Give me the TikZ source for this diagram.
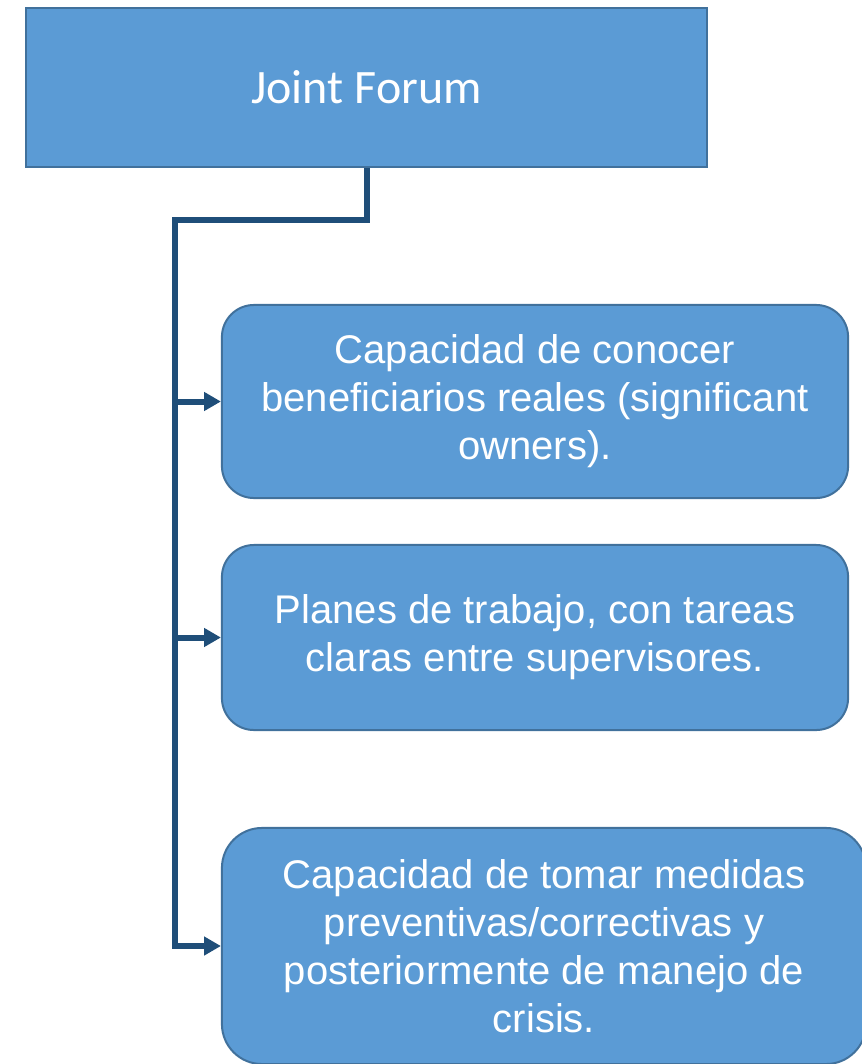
\documentclass[tikz,border=0pt]{standalone}
\usepackage{fontspec}
\setmainfont{Liberation Sans}
\newfontfamily\forumfont{Carlito}
\usetikzlibrary{arrows.meta}
\definecolor{boxblue}{HTML}{5B9BD5}
\definecolor{boxedge}{HTML}{41719C}
\definecolor{linkblue}{HTML}{1F4E79}

\begin{document}
\begin{tikzpicture}[x=0.025cm,y=-0.025cm,
		box/.style={draw=boxedge, line width=0.05cm, fill=boxblue, text=white, align=center, inner sep=0pt,
			font=\fontsize{28.45}{34.14}\selectfont},
		link/.style={draw=linkblue, line width=0.15cm, -{Triangle[length=0.42cm,width=0.45cm]}}]
	\useasboundingbox (0,0) rectangle (861,1064);

	\node[box, minimum width=17.025cm, minimum height=3.975cm, font=\forumfont\fontsize{34.14}{40}\selectfont] (jf) at (366.5,87.5) {Joint Forum};

	\node[box, rounded corners=0.8cm, minimum width=15.65cm, minimum height=4.825cm] (cap) at (535,401.5) {Capacidad de conocer\\beneficiarios reales (significant\\owners).};
	\node[box, rounded corners=0.8cm, minimum width=15.65cm, minimum height=4.625cm] (plan) at (535,637.5) {Planes de trabajo, con tareas\\claras entre supervisores.};
	\node[box, rounded corners=1cm, minimum width=16.1cm, minimum height=5.9cm] (crisis) at (544,946) {Capacidad de tomar medidas\\preventivas/correctivas y\\posteriormente de manejo de\\crisis.};

	\coordinate (bend) at (175,220);

	\draw[link] (jf.south) |- (bend) |- (crisis.west);
	\draw[link] (cap.west -| bend) -- (cap.west);
	\draw[link] (plan.west -| bend) -- (plan.west);
\end{tikzpicture}
\end{document}
